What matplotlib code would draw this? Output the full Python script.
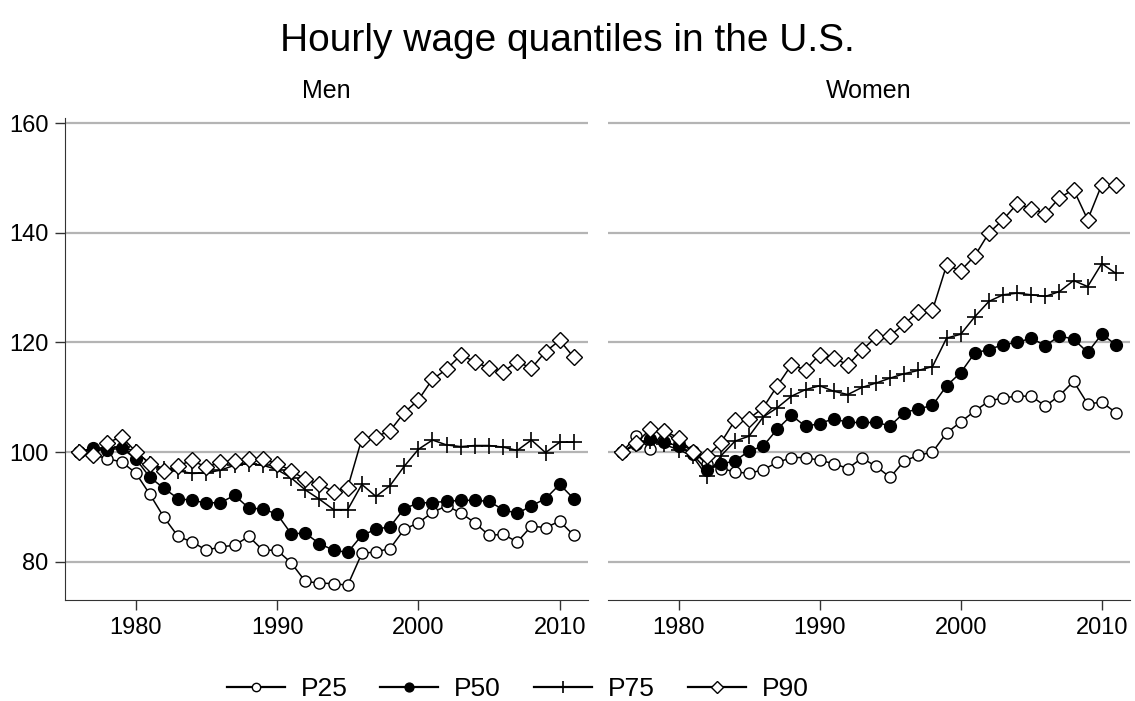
import numpy as np
import matplotlib
matplotlib.use("Agg")
import matplotlib.pyplot as plt

plt.rcParams['font.family'] = ['Liberation Sans', 'DejaVu Sans']

years = list(range(1976, 2012))

# Men, index 1976 = 100
men_p25 = [100, 99.5, 98.8, 98.2, 96.2, 92.3, 88.1, 84.6, 83.6, 82.1, 82.7, 83.0,
           84.6, 82.1, 82.1, 79.8, 76.4, 76.1, 76.0, 75.7,
           81.5, 81.8, 82.4, 85.9, 87.1, 89.0, 90.2, 88.9, 87.1, 84.8, 85.0, 83.6,
           86.5, 86.2, 87.4, 84.8]
men_p50 = [100, 100.8, 100.4, 100.7, 98.8, 95.4, 93.4, 91.5, 91.2, 90.7, 90.8, 92.1,
           89.8, 89.6, 88.7, 85.1, 85.2, 83.3, 82.1, 81.7,
           84.8, 85.9, 86.4, 89.7, 90.7, 90.8, 91.0, 91.2, 91.2, 91.0, 89.5, 88.8,
           90.2, 91.5, 94.1, 91.5]
men_p75 = [100, 100.4, 100.7, 101.0, 100.1, 97.9, 97.0, 96.6, 96.1, 96.2, 96.7, 97.6,
           97.9, 97.6, 96.8, 95.3, 93.1, 91.4, 89.5, 89.5,
           94.1, 91.9, 93.9, 97.4, 100.5, 102.2, 101.3, 101.0, 101.2, 101.2, 100.9, 100.3,
           102.2, 99.9, 101.8, 101.8]
men_p90 = [100, 99.5, 101.7, 102.8, 100.1, 97.9, 96.6, 97.5, 98.5, 97.2, 98.2, 98.4,
           98.7, 98.7, 97.9, 96.6, 95.0, 94.1, 92.8, 93.5,
           102.4, 102.8, 103.9, 107.2, 109.5, 113.3, 115.1, 117.7, 116.5, 115.3, 114.7, 116.5,
           115.3, 118.3, 120.4, 117.3]

# Women, index 1976 = 100
women_p25 = [100, 102.9, 100.6, 103.8, 101.7, 100.2, 97.8, 97.0, 96.4, 96.1, 96.8, 98.1,
             99.0, 99.0, 98.5, 97.9, 97.0, 98.9, 97.4, 95.4,
             98.4, 99.4, 100.0, 103.5, 105.5, 107.5, 109.3, 109.9, 110.2, 110.2, 108.4, 110.3,
             112.9, 108.8, 109.1, 107.2]
women_p50 = [100, 101.4, 102.3, 101.8, 101.1, 99.6, 96.7, 97.8, 98.4, 100.2, 101.1, 104.2,
             106.7, 104.7, 105.2, 106.1, 105.4, 105.4, 105.4, 104.8,
             107.2, 107.9, 108.5, 112.1, 114.5, 118.1, 118.7, 119.6, 120.0, 120.8, 119.4, 121.2,
             120.6, 118.2, 121.5, 119.6]
women_p75 = [100, 101.4, 102.0, 101.4, 100.4, 99.3, 95.6, 99.3, 102.0, 102.9, 106.4, 108.1,
             110.2, 111.4, 112.1, 111.1, 110.5, 111.8, 112.6, 113.5,
             114.3, 114.9, 115.6, 120.8, 121.5, 124.7, 127.5, 128.7, 129.0, 128.7, 128.4, 129.3,
             131.3, 130.2, 134.4, 132.6]
women_p90 = [100, 101.7, 104.2, 103.8, 102.6, 100.0, 99.2, 101.7, 105.8, 106.1, 108.1, 112.1,
             115.9, 115.0, 117.8, 117.2, 115.9, 118.6, 121.0, 121.2,
             123.4, 125.6, 125.9, 134.1, 133.1, 135.8, 140.0, 142.4, 145.3, 144.4, 143.5, 146.4,
             147.9, 142.4, 148.8, 148.7]

labels = ["P25", "P50", "P75", "P90"]
styles = [dict(marker="o", mfc="white", ms=8),
          dict(marker="o", mfc="black", ms=8.5),
          dict(marker="+", mfc="black", ms=12, mew=1.2),
          dict(marker="D", mfc="white", ms=8)]

fig = plt.figure(figsize=(11.35, 7.01), dpi=100)
ax1 = fig.add_axes([0.0573, 0.144, 0.4607, 0.688])
ax2 = fig.add_axes([0.5357, 0.144, 0.4599, 0.688])

panels = [(ax1, "Men", [men_p25, men_p50, men_p75, men_p90]),
          (ax2, "Women", [women_p25, women_p50, women_p75, women_p90])]

for ax, name, series in panels:
    for lab, vals, st in zip(labels, series, styles):
        ax.plot(years, vals, color="black", lw=1.1, mec="black", label=lab,
                zorder=3, **st)
    ax.set_xlim(1975, 2012)
    ax.set_ylim(73, 161)
    ax.set_xticks([1980, 1990, 2000, 2010])
    ax.set_yticks([80, 100, 120, 140, 160])
    ax.yaxis.grid(True, color="#b4b4b4", lw=1.6)
    ax.set_axisbelow(True)
    for s in ["top", "right"]:
        ax.spines[s].set_visible(False)
    ax.spines["bottom"].set_color("#333333")
    ax.spines["left"].set_color("#333333")
    ax.tick_params(axis="both", direction="out", length=7, width=1,
                   color="#333333", labelsize=17, pad=5)
    ax.set_title(name, fontsize=18, pad=14.5)

ax2.spines["left"].set_visible(False)
ax2.tick_params(axis="y", left=False, labelleft=False)

fig.suptitle("Hourly wage quantiles in the U.S.", fontsize=28, y=0.967)

handles, labs = ax1.get_legend_handles_labels()
leg_handles = []
for h, st in zip(handles, styles):
    leg_handles.append(plt.Line2D([], [], color="black", lw=1.6,
                                  marker=st["marker"], mfc=st["mfc"], mec="black",
                                  ms=st["ms"] * 0.75, mew=st.get("mew", 1.0)))
fig.legend(leg_handles, labs, loc="center", bbox_to_anchor=(0.456, 0.017),
           ncol=4, frameon=False, fontsize=19, handlelength=2.2,
           columnspacing=1.25, handletextpad=0.6)

fig.savefig("out.png", dpi=100)
